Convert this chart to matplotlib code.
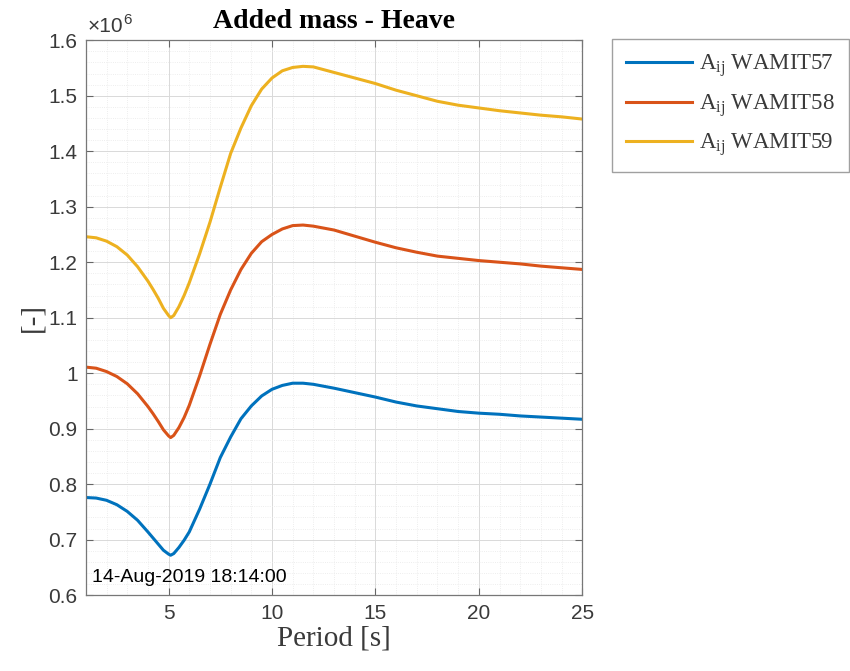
import numpy as np
import matplotlib
matplotlib.use("Agg")
import matplotlib.pyplot as plt
from matplotlib.ticker import MultipleLocator, FuncFormatter

# period [s]
period = [1, 1.5, 2, 2.5, 3, 3.5, 4, 4.25, 4.5, 4.75, 5, 5.1, 5.25, 5.5, 5.75,
          6, 6.5, 7, 7.5, 8, 8.5, 9, 9.5, 10, 10.5, 11, 11.5, 12, 13, 14, 15,
          16, 17, 18, 19, 20, 21, 22, 23, 24, 25]

# added mass in heave, units of 1e6
wamit57 = [0.776, 0.775, 0.771, 0.763, 0.751, 0.735, 0.714, 0.703, 0.692, 0.681,
           0.674, 0.672, 0.675, 0.686, 0.699, 0.714, 0.755, 0.800, 0.848, 0.885,
           0.918, 0.941, 0.959, 0.971, 0.978, 0.982, 0.982, 0.980, 0.973, 0.965,
           0.957, 0.948, 0.941, 0.936, 0.931, 0.928, 0.926, 0.923, 0.921, 0.919,
           0.917]
wamit58 = [1.011, 1.009, 1.003, 0.994, 0.981, 0.963, 0.940, 0.927, 0.913, 0.898,
           0.887, 0.884, 0.888, 0.902, 0.920, 0.942, 0.995, 1.052, 1.106, 1.150,
           1.187, 1.216, 1.237, 1.250, 1.260, 1.266, 1.267, 1.265, 1.258, 1.247,
           1.236, 1.226, 1.218, 1.211, 1.207, 1.203, 1.200, 1.197, 1.193, 1.190,
           1.187]
wamit59 = [1.246, 1.244, 1.238, 1.228, 1.213, 1.192, 1.166, 1.151, 1.135, 1.117,
           1.104, 1.100, 1.104, 1.120, 1.140, 1.163, 1.215, 1.272, 1.335, 1.396,
           1.442, 1.482, 1.512, 1.532, 1.545, 1.551, 1.553, 1.552, 1.542, 1.532,
           1.522, 1.510, 1.500, 1.490, 1.483, 1.478, 1.473, 1.469, 1.465, 1.462,
           1.458]

labels = [r'A$_{\rm ij}$ WAMIT57', r'A$_{\rm ij}$ WAMIT58', r'A$_{\rm ij}$ WAMIT59']
colors = ['#0072BD', '#D95319', '#EDB120']

plt.rcParams['mathtext.fontset'] = 'custom'
plt.rcParams['mathtext.rm'] = 'Liberation Serif'
plt.rcParams['mathtext.it'] = 'Liberation Serif:italic'

serif = 'Liberation Serif'
sans = 'Liberation Sans'
gray = '#3a3a3a'

fig = plt.figure(figsize=(8.5, 6.71), dpi=100)
ax = fig.add_axes([0.101, 0.113, 0.584, 0.827])

for y, lab, c in zip([wamit57, wamit58, wamit59], labels, colors):
    ax.plot(period, y, color=c, lw=2.2, label=lab)

ax.set_xlim(1, 25)
ax.set_ylim(0.6, 1.6)
ax.xaxis.set_major_locator(MultipleLocator(5))
ax.xaxis.set_minor_locator(MultipleLocator(1))
ax.yaxis.set_major_locator(MultipleLocator(0.1))
ax.yaxis.set_minor_locator(MultipleLocator(0.02))
ax.yaxis.set_major_formatter(FuncFormatter(lambda v, p: '%g' % round(v, 2)))

ax.grid(which='major', color='#d9d9d9', lw=0.7)
ax.grid(which='minor', color='#e8e8e8', lw=0.6, ls=':')
ax.set_axisbelow(True)

ax.tick_params(which='major', direction='in', length=5, top=True, right=True,
               labelsize=15, labelcolor=gray, color='#666666', pad=6)
ax.tick_params(which='minor', length=0)
for lbl in ax.get_xticklabels() + ax.get_yticklabels():
    lbl.set_family(sans)
for s in ax.spines.values():
    s.set_color('#777777')
    s.set_linewidth(0.9)

ax.set_title('Added mass - Heave', fontsize=20, fontweight='bold',
             family=serif, pad=9)
ax.set_xlabel('Period [s]', fontsize=21, family=serif, color=gray, labelpad=2)
ax.set_ylabel('[-]', fontsize=21, family=serif, color=gray, labelpad=2)

ax.text(0.004, 1.008, '\u00d710', transform=ax.transAxes, fontsize=15,
        family=sans, color=gray, ha='left', va='bottom')
ax.text(0.075, 1.024, '6', transform=ax.transAxes, fontsize=11,
        family=sans, color=gray, ha='left', va='bottom')

ax.text(0.012, 0.031, '14-Aug-2019 18:14:00', transform=ax.transAxes,
        fontsize=14, family=sans, color='black', ha='left', va='center')

leg = fig.legend(loc='upper left', bbox_to_anchor=(0.72, 0.942),
                 prop={'family': serif, 'size': 16.5}, frameon=True,
                 fancybox=False, edgecolor='#888888', handlelength=2.9,
                 handletextpad=0.3, labelspacing=0.55, borderpad=0.6,
                 borderaxespad=0)
leg.get_frame().set_linewidth(1.0)
for t in leg.get_texts():
    t.set_color(gray)

fig.savefig('out.png', dpi=100)
